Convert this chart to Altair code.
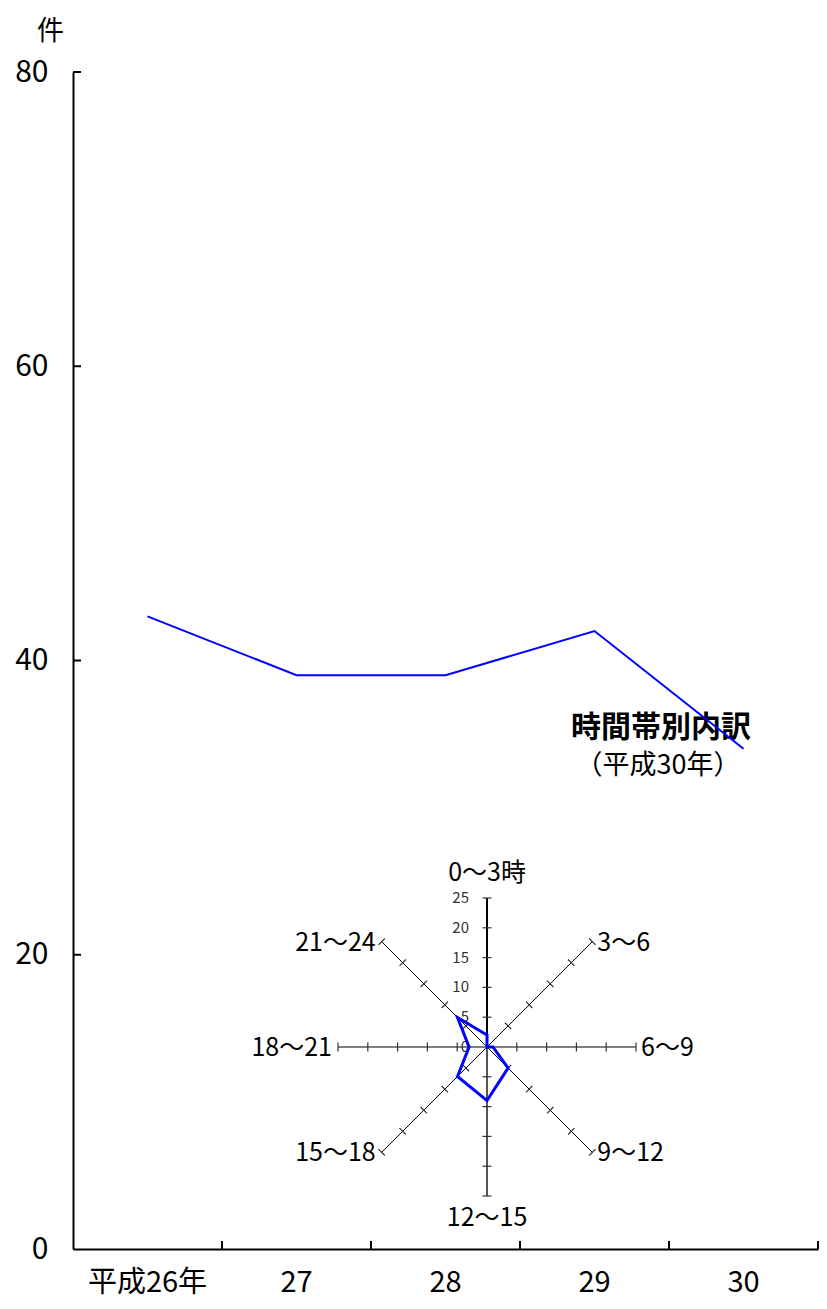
import math
import altair as alt
import pandas as pd

# ---------------- data ----------------
years = ["平成26年", "27", "28", "29", "30"]
counts = [43, 39, 39, 42, 34]
y_ticks = [0, 20, 40, 60, 80]

hours = ["0～3時", "3～6", "6～9", "9～12", "12～15", "15～18", "18～21", "21～24"]
hour_counts = [2, 0, 1, 5, 9, 7, 3, 7]
radar_ticks = [0, 5, 10, 15, 20, 25]
radar_max = 25

title_lines = ["時間帯別内訳", "（平成30年）"]

# ---------------- layout ----------------
W, H = 745, 1177
RADAR_CX_PX, RADAR_CY_PX, RADAR_R_PX = 414, 975, 149
K = RADAR_R_PX / radar_max           # px per radar unit
TICK_HALF = 4.5 / K                  # half length of spoke tick marks (units)
FONT = '"Noto Sans CJK JP", sans-serif'
BLUE = "#0000FF"

# ---------------- main line chart ----------------
main_df = pd.DataFrame({"year": years, "count": counts})
ytick_df = pd.DataFrame({"v": y_ticks[1:]})
xtick_df = pd.DataFrame({"year": years})
title_df = pd.DataFrame({"t": title_lines})

x_scale = alt.Scale(type="band", domain=years, paddingInner=0, paddingOuter=0)
x_axis = alt.Axis(title=None, labelAngle=0, tickSize=0, labelPadding=33,
                  labelBaseline="middle", labelFontSize=29, labelColor="black",
                  domainColor="black", domainWidth=2, grid=False, labelFont=FONT)
y_scale = alt.Scale(domain=[0, 80], nice=False, zero=True)
y_axis = alt.Axis(values=y_ticks, tickSize=0, labelPadding=25, labelFontSize=30,
                  labelColor="black", labelBaseline="middle", domainColor="black",
                  domainWidth=2, grid=False, labelFont=FONT,
                  title="件", titleAngle=0, titleX=-23, titleY=-41,
                  titleAlign="center", titleBaseline="middle",
                  titleFontSize=27, titleFontWeight="normal", titleFont=FONT,
                  titleColor="black")

line = alt.Chart(main_df).mark_line(color=BLUE, strokeWidth=2).encode(
    x=alt.X("year:N", sort=years, scale=x_scale, axis=x_axis, bandPosition=0.5),
    y=alt.Y("count:Q", scale=y_scale, axis=y_axis),
)

xticks = alt.Chart(xtick_df).mark_rule(color="black", strokeWidth=2).encode(
    x=alt.X("year:N", sort=years, scale=x_scale, axis=x_axis, bandPosition=1),
    y=alt.value(H),
    y2=alt.value(H - 8),
)

yticks = alt.Chart(ytick_df).mark_rule(color="black", strokeWidth=2).encode(
    y=alt.Y("v:Q", scale=y_scale, axis=y_axis),
    x=alt.value(0),
    x2=alt.value(8),
)

title1 = alt.Chart(title_df.iloc[[0]]).mark_text(
    font=FONT, fontSize=30, fontWeight="bold", color="black",
    align="center", baseline="middle").encode(
    text="t:N", x=alt.value(588), y=alt.value(656))
title2 = alt.Chart(title_df.iloc[[1]]).mark_text(
    font=FONT, fontSize=27, color="black",
    align="center", baseline="middle").encode(
    text="t:N", x=alt.value(585), y=alt.value(694))

main = alt.layer(title1, title2, xticks, yticks, line)

# ---------------- radar inset ----------------
sx = alt.Scale(domain=[-RADAR_CX_PX / K, (W - RADAR_CX_PX) / K], nice=False, zero=False)
sy = alt.Scale(domain=[-(H - RADAR_CY_PX) / K, RADAR_CY_PX / K], nice=False, zero=False)

spoke_df = pd.DataFrame({"i": list(range(len(hours))), "label": hours,
                         "value": hour_counts})
angle = "datum.i * PI / 4"

spokes_base = alt.Chart(spoke_df).transform_calculate(
    th=angle
).transform_calculate(
    x0="0", y0="0",
    xe=f"{radar_max} * sin(datum.th)", ye=f"{radar_max} * cos(datum.th)",
)


def spoke_layer(filt, color, width):
    return spokes_base.transform_filter(filt).mark_rule(
        color=color, strokeWidth=width).encode(
        x=alt.X("x0:Q", scale=sx, axis=None), y=alt.Y("y0:Q", scale=sy, axis=None),
        x2="xe:Q", y2="ye:Q")


spokes = [
    spoke_layer("datum.i == 0", "black", 2),
    spoke_layer("datum.i == 4", "#555555", 2),
    spoke_layer("datum.i == 2 || datum.i == 6", "#555555", 1.5),
    spoke_layer("datum.i % 2 == 1", "black", 1),
]

tick_df = pd.DataFrame([{"i": i, "r": r} for i in range(len(hours))
                        for r in radar_ticks[1:]])
ticks = alt.Chart(tick_df).transform_calculate(
    th=angle
).transform_calculate(
    cx="datum.r * sin(datum.th)", cy="datum.r * cos(datum.th)",
    px="cos(datum.th)", py="-sin(datum.th)",
).transform_calculate(
    tx1=f"datum.cx - {TICK_HALF} * datum.px", tx2=f"datum.cx + {TICK_HALF} * datum.px",
    ty1=f"datum.cy - {TICK_HALF} * datum.py", ty2=f"datum.cy + {TICK_HALF} * datum.py",
).mark_rule(color="#333333", strokeWidth=1.2).encode(
    x=alt.X("tx1:Q", scale=sx, axis=None), y=alt.Y("ty1:Q", scale=sy, axis=None),
    x2="tx2:Q", y2="ty2:Q")

rtick_df = pd.DataFrame({"r": radar_ticks})
rtick_labels = alt.Chart(rtick_df).transform_calculate(x0="0").mark_text(
    font=FONT, fontSize=15, color="#333333", align="right", baseline="middle", dx=-18
).encode(x=alt.X("x0:Q", scale=sx, axis=None),
         y=alt.Y("r:Q", scale=sy, axis=None), text="r:Q")

polygon = alt.Chart(spoke_df).transform_calculate(
    th=angle
).transform_calculate(
    px="datum.value * sin(datum.th)", py="datum.value * cos(datum.th)"
).mark_line(color=BLUE, strokeWidth=3, interpolate="linear-closed").encode(
    x=alt.X("px:Q", scale=sx, axis=None), y=alt.Y("py:Q", scale=sy, axis=None),
    order="i:Q")


def label_layer(filt, align, dx, dy):
    return spokes_base.transform_filter(filt).mark_text(
        font=FONT, fontSize=25, color="black", align=align, baseline="middle",
        dx=dx, dy=dy).encode(
        x=alt.X("xe:Q", scale=sx, axis=None), y=alt.Y("ye:Q", scale=sy, axis=None),
        text="label:N")


labels = [
    label_layer("datum.i == 0", "center", 0, -25),
    label_layer("datum.i == 4", "center", 0, 22),
    label_layer("datum.i >= 1 && datum.i <= 3", "left", 5, 1),
    label_layer("datum.i >= 5", "right", -6, 1),
]

radar = alt.layer(*spokes, ticks, rtick_labels, polygon, *labels)

chart = alt.layer(radar, main).resolve_scale(
    x="independent", y="independent"
).properties(
    width=W, height=H,
    autosize=alt.AutoSizeParams(type="none"),
    padding={"left": 65, "top": 64, "right": 1, "bottom": 52},
).configure(font=FONT).configure_view(stroke=None)

chart.save("out.html", embed_options={"renderer": "svg", "actions": False})
